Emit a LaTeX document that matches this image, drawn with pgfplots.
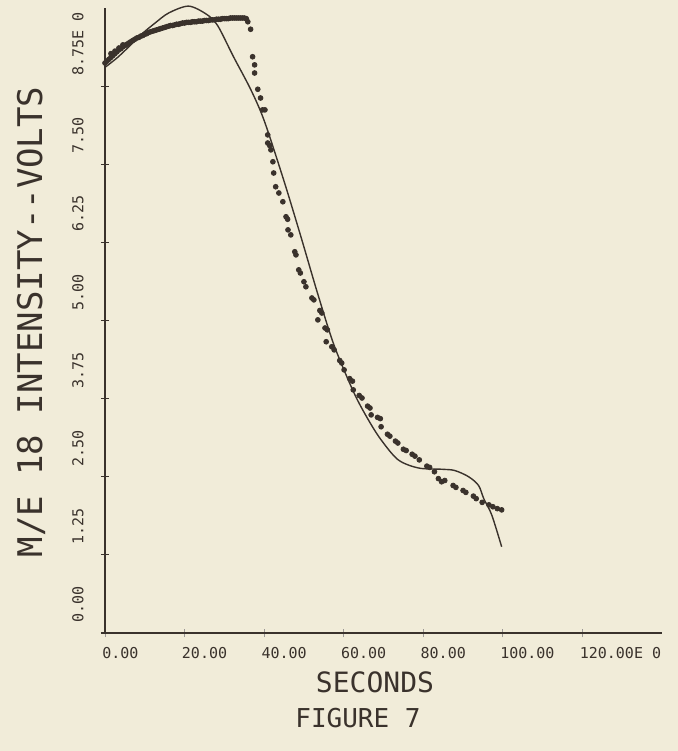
\documentclass[border=0pt]{standalone}
\usepackage{pgfplots}
\pgfplotsset{compat=1.18}
\usepackage{fontspec}
\newfontfamily\plotfont{DejaVu Sans Mono}
\definecolor{ink}{RGB}{58,50,44}
\definecolor{paper}{RGB}{241,236,217}
\begin{document}
\begin{tikzpicture}[x=1pt,y=1pt]
\fill[paper] (0,0) rectangle (339,375.5);
\useasboundingbox (0,0) rectangle (339,375.5);
\begin{axis}[
  at={(52.5pt,59pt)}, anchor=south west,
  width=278.5pt, height=312.5pt, scale only axis,
  xmin=0, xmax=140, ymin=0, ymax=10, clip=false,
  axis x line*=bottom, axis y line*=left,
  x axis line style={line width=1.4pt, draw=ink},
  y axis line style={line width=0.7pt, draw=ink},
  xtick={0,20,40,60,80,100,120},
  xticklabels={0.00,20.00,40.00,60.00,80.00,100.00,120.00E 0},
  ytick={0,1.25,2.5,3.75,5,6.25,7.5,8.75},
  yticklabels={0.00,1.25,2.50,3.75,5.00,6.25,7.50,8.75E 0},
  tick align=center, major tick length=4pt,
  ytick style={draw=ink, line width=0.6pt},
  xtick style={draw=ink!50, line width=0.4pt},
  xticklabel style={font=\plotfont\fontsize{7.5}{8}\selectfont, text=ink, anchor=north west, inner sep=0pt, yshift=-5pt, xshift=-1.5pt},
  yticklabel style={font=\plotfont\fontsize{7.5}{8}\selectfont, text=ink, xshift=-8.5pt, yshift=5pt, rotate=90, anchor=south west, inner sep=0pt},
  xlabel={SECONDS},
  xlabel style={at={(rel axis cs:0.4847,-0.096)}, anchor=base, font=\plotfont\fontsize{14}{16}\selectfont, text=ink},
  ylabel={M/E 18 INTENSITY{-}{-}VOLTS},
  ylabel style={at={(rel axis cs:-0.1329,0.4976)}, anchor=center, font=\plotfont\fontsize{17}{19}\selectfont, text=ink},
]
% plateau band of dense points
\addplot[only marks, mark=*, mark size=1.2pt, color=ink, mark options={draw=ink, fill=ink}] coordinates {
(0,9.12)(0.5,9.15)(1,9.18)(1.5,9.21)(2,9.24)(2.5,9.27)(3,9.30)(3.5,9.33)(4,9.35)(4.5,9.38)
(5,9.40)(5.5,9.42)(6,9.44)(6.5,9.46)(7,9.48)(7.5,9.50)(8,9.52)(8.5,9.53)(9,9.55)(9.5,9.56)
(10,9.58)(10.5,9.59)(11,9.61)(11.5,9.62)(12,9.63)(12.5,9.64)(13,9.65)(13.5,9.66)(14,9.67)(14.5,9.68)
(15,9.69)(15.5,9.70)(16,9.71)(16.5,9.72)(17,9.72)(17.5,9.73)(18,9.74)(18.5,9.74)(19,9.75)(19.5,9.76)
(20,9.76)(20.5,9.77)(21,9.77)(21.5,9.77)(22,9.78)(22.5,9.78)(23,9.78)(23.5,9.79)(24,9.79)(24.5,9.79)
(25,9.80)(25.5,9.80)(26,9.80)(26.5,9.81)(27,9.81)(27.5,9.81)(28,9.82)(28.5,9.82)(29,9.82)(29.5,9.83)
(30,9.83)(30.5,9.83)(31,9.83)(31.5,9.84)(32,9.84)(32.5,9.84)(33,9.84)(33.5,9.84)(34,9.84)(34.5,9.84)
(35,9.84)(35.5,9.83)(35.9,9.78)
(1.5,9.27)(2.5,9.31)(3.5,9.36)(4.5,9.41)
};
% falling part
\addplot[only marks, mark=*, mark size=1.2pt, color=ink, mark options={draw=ink, fill=ink}] coordinates {
(36.6,9.66)(37.1,9.22)(37.6,9.09)(37.6,8.96)(38.4,8.70)(39.1,8.56)(39.6,8.37)(40.2,8.37)
(40.9,7.97)(40.9,7.84)(41.4,7.80)(41.7,7.73)(42.2,7.54)(42.4,7.36)(42.9,7.14)(43.7,7.04)
(44.7,6.90)(45.5,6.66)(45.9,6.62)(46.0,6.45)(46.7,6.37)(47.7,6.10)(48.0,6.05)(48.7,5.81)(49.1,5.76)
(50.0,5.62)(50.5,5.54)(52.0,5.36)(52.5,5.33)(53.5,5.01)(54.0,5.16)(54.5,5.12)(55.3,4.88)(55.9,4.85)
(55.6,4.66)(57.0,4.58)(57.6,4.53)(59.0,4.36)(59.5,4.32)(60.1,4.21)(61.5,4.07)(62.2,4.03)(62.4,3.89)
(63.9,3.80)(64.6,3.76)(66.0,3.63)(66.6,3.60)(66.9,3.49)(68.5,3.45)(69.2,3.43)(69.4,3.30)
(71.0,3.18)(71.6,3.15)(73.0,3.07)(73.6,3.04)(75.0,2.94)(75.7,2.92)(77.2,2.86)(77.9,2.83)
(79.0,2.77)(80.9,2.67)(81.6,2.65)(82.8,2.58)(83.8,2.47)(84.6,2.42)(85.4,2.44)(87.5,2.36)(88.2,2.33)
(90.0,2.28)(90.7,2.25)(92.6,2.19)(93.3,2.15)(94.8,2.09)(96.5,2.05)(97.5,2.02)(98.6,1.99)(99.7,1.97)
};
% fitted curve
\addplot[ink, line width=0.7pt, smooth, no marks] coordinates {
(0,9.05)(3,9.20)(6,9.38)(9,9.57)(12.6,9.76)(16,9.92)(21,10.03)(25.5,9.90)(28.3,9.72)
(32.3,9.22)(36.6,8.70)(40,8.20)(44.9,7.25)(49.2,6.35)(53.5,5.42)(57.6,4.60)
(62.6,3.84)(66.2,3.41)(69.4,3.09)(73.7,2.77)(78.8,2.64)(84.6,2.62)(87.9,2.60)(91.4,2.50)
(93.9,2.36)(95.2,2.15)(97.2,1.89)(99.7,1.38)
};
\end{axis}
\node[font=\plotfont\fontsize{13}{15}\selectfont, text=ink, anchor=base] at (179,12) {FIGURE 7};
\end{tikzpicture}
\end{document}
